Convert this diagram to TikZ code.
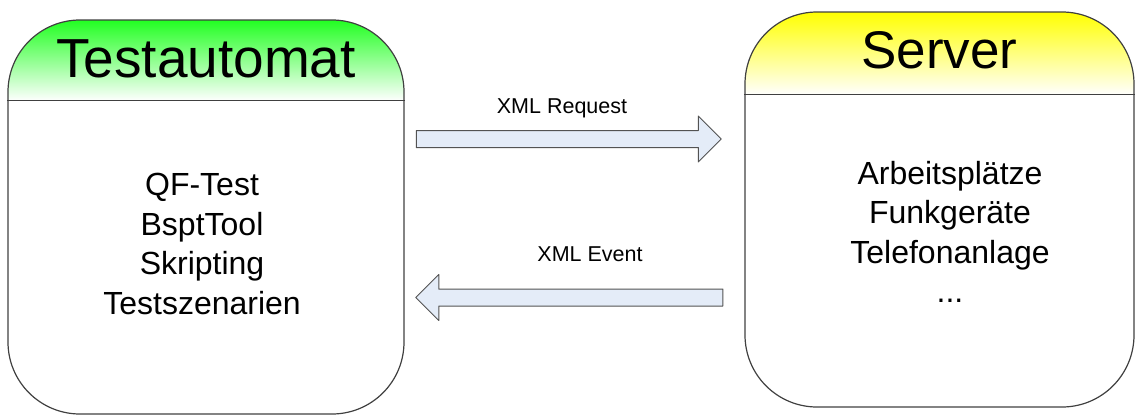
\documentclass[tikz,border=0pt]{standalone}
\usepackage{fontspec}
\setmainfont{Liberation Sans}
\usetikzlibrary{shapes.arrows}
\definecolor{hdgreen}{RGB}{34,255,34}
\definecolor{hdyellow}{RGB}{255,255,0}
\definecolor{rim}{RGB}{64,64,64}
\definecolor{arrowfill}{RGB}{228,236,248}
\tikzset{
  box/.style={draw=rim, line width=1.2pt, rounded corners=72pt, inner sep=0pt},
  flow/.style={single arrow, draw=rim!90, fill=arrowfill, line width=1pt,
    text height=0pt, text depth=0pt, inner xsep=0pt, inner ysep=8pt,
    single arrow head extend=14.5pt, single arrow tip angle=90},
  title/.style={font=\fontsize{55}{60}\selectfont, anchor=base},
  items/.style={align=center, font=\fontsize{32}{39.5}\selectfont},
  tag/.style={font=\fontsize{21.5}{24}\selectfont, anchor=base}
}
\begin{document}
\begin{tikzpicture}[x=1pt, y=-1pt, line join=round]
				%	\draw[gray!30] (0,0) grid[step=50] (1135,416);
				\useasboundingbox (0,0) rectangle (1135,416);
				\begin{scope}
				\clip[rounded corners=72pt] (8,20) rectangle (404,414);
				\shade[top color=hdgreen, middle color=hdgreen!45!white, bottom color=white] (8,20) rectangle (404,101);
				\end{scope}
				\begin{scope}
				\clip[rounded corners=72pt] (745,12) rectangle (1134,407);
				\shade[top color=hdyellow, middle color=hdyellow!45!white, bottom color=white] (745,12) rectangle (1134,95);
				\end{scope}
				\node[box, minimum width=396pt, minimum height=394pt] (auto) at (206,217) {};
				\node[box, minimum width=389pt, minimum height=395pt] (srv) at (939.5,209.5) {};
				\draw[rim, line width=1.2pt] ([yshift=-81pt]auto.north west)--([yshift=-81pt]auto.north east);
				\draw[rim, line width=1.2pt] ([yshift=-83pt]srv.north west)--([yshift=-83pt]srv.north east);
				\node[title] (autotitle) at (206,77) {Testautomat};
				\node[title, font=\fontsize{53}{58}\selectfont] (srvtitle) at (939.5,68) {Server};
				\node[items] (autoitems) at (202,244) {QF-Test\\BsptTool\\Skripting\\Testszenarien};
				\node[items] (srvitems) at (950,232) {Arbeitsplätze\\Funkgeräte\\Telefonanlage\\...};
				\node[flow, minimum height=305pt] (req) at (564.5,139) {};
				\node[flow, minimum height=307pt, shape border rotate=180] (evt) at (573.5,297.5) {};
				\node[tag] (reqtag) at (562,113) {XML Request};
				\node[tag] (evttag) at (590,261) {XML Event};
	\end{tikzpicture}
\end{document}
